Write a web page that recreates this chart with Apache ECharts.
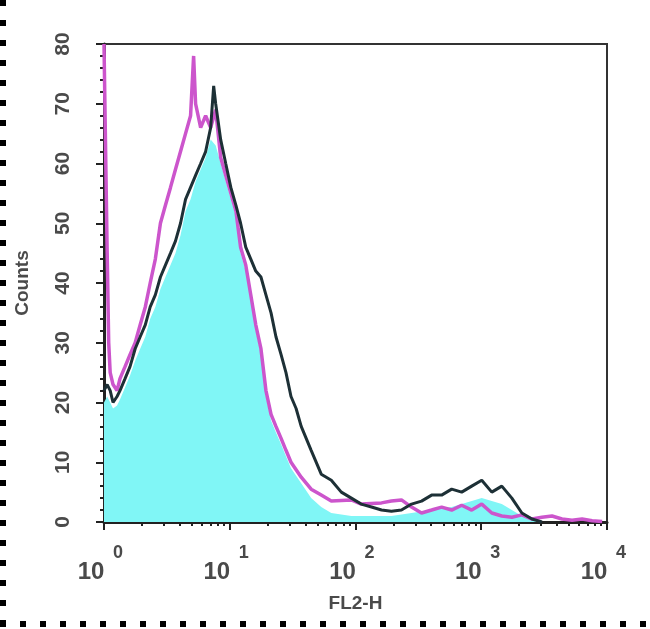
<!DOCTYPE html>
<html>
<head>
<meta charset="utf-8">
<script src="https://cdn.jsdelivr.net/npm/echarts@6/dist/echarts.min.js"></script>
<style>
html,body{margin:0;padding:0;background:#fff;}
#chart{width:650px;height:629px;}
</style>
</head>
<body>
<div id="chart"></div>
<script>
// ---- data (FL2-H value, counts) ----
const xTickLabels = ['0', '1', '2', '3', '4'];
const xMinorTicks = [2,3,4,5,6,7,8,9,20,30,40,50,60,70,80,90,200,300,400,500,600,700,800,900,2000,3000,4000,5000,6000,7000,8000,9000];
const yTicks = [0, 10, 20, 30, 40, 50, 60, 70, 80];

const cyanX = [1.0,1.06,1.12,1.18,1.27,1.34,1.47,1.61,1.77,1.94,2.13,2.33,2.56,2.81,3.08,3.38,3.70,4.06,4.45,4.88,5.35,5.87,6.43,7.05,7.73,8.47,9.29,10.2,11.2,12.2,13.4,14.7,16.1,17.7,19.4,21.3,23.3,25.6,28.0,30.7,37.0,44.4,53.4,64.2,92.7,134,193,279,403,582,840,1009,1213,1457,1751,2104,2529,3039];
const cyanY = [20,21,20,19,19.5,20.5,22.5,24.5,27,29,31,34,36,39,41,43,45,48,52,54,57,59,61,64,63,60,57,54,51,45,42,37,32,28,21,17,15,13,11,9,6.5,4,2.5,1.5,1,1,1,1.5,2,2.5,3.5,4,3.5,3,2,1,0.3,0];

const blackX = [1.0,1.06,1.12,1.18,1.27,1.34,1.47,1.61,1.77,1.94,2.13,2.33,2.56,2.81,3.08,3.38,3.70,4.06,4.45,4.88,5.35,5.87,6.43,7.05,7.45,7.73,8.47,9.29,10.2,11.2,12.2,13.4,14.7,16.1,17.7,19.4,21.3,23.3,25.6,28.0,30.7,33.7,37.0,44.4,53.4,64.2,77.1,92.7,111,134,161,193,232,279,335,403,484,582,699,840,1009,1213,1457,1751,2104,2529,3039];
const blackY = [22,23,22,20,21,22,24,26,29,31,33,36,38,41,43,45,47,50,54,56,58,60,62,66,73,70,64,60,56,53,50,46,44,42,41,38,35,31,28,25,21,19,16,12,8,7,5,4,3,2.5,2,1.8,2,3,3.5,4.5,4.5,5.5,5,6,7,5,6,4,1.5,0.5,0];

const magentaX = [1.0,1.03,1.06,1.09,1.12,1.18,1.27,1.34,1.47,1.61,1.77,1.94,2.13,2.33,2.56,2.81,3.08,3.38,3.70,4.06,4.45,4.88,5.16,5.35,5.87,6.43,7.05,7.73,8.47,9.29,10.2,11.2,12.2,13.4,14.7,16.1,17.7,19.4,21.3,23.3,25.6,28.0,30.7,37.0,44.4,53.4,64.2,92.7,111,161,193,232,279,335,403,484,582,699,840,1009,1213,1457,1751,2104,2529,3039,3652,4389,5274,6338,7616,9152];
const magentaY = [80,80,45,30,25,23,22,24,26,28,30,33,36,40,44,50,53,56,59,62,65,68,78,70,66,68,66,69,61,58,55,52,46,43,38,33,29,22,18,16,14,12,10,7.5,5.5,4.5,3.5,3.7,3,3.2,3.5,3.7,2.5,1.5,2,2.5,2,2.8,2,3,1.5,1,0.8,1.2,0.5,0.8,1,0.5,0.3,0.5,0.2,0.1];

function zip(xs, ys) { return xs.map((x, i) => [x, ys[i]]); }

const chart = echarts.init(document.getElementById('chart'), null, {renderer: 'canvas'});
const axisColor = '#222';
const labelColor = '#4a4a4a';
const font = 'Liberation Sans';

chart.setOption({
  backgroundColor: '#fff',
  animation: false,
  grid: {
    left: 104, right: 43, top: 44, bottom: 107,
    show: true, borderColor: '#333', borderWidth: 2, backgroundColor: 'transparent'
  },
  xAxis: [{
    type: 'log', logBase: 10, min: 1, max: 10000,
    name: 'FL2-H', nameLocation: 'middle', nameGap: 72,
    nameTextStyle: {fontFamily: font, fontSize: 19, fontWeight: 'bold', color: labelColor},
    axisLine: {show: true, lineStyle: {color: axisColor, width: 3}},
    axisTick: {show: true, inside: false, length: 8, lineStyle: {color: axisColor, width: 2}},
    splitLine: {show: false},
    axisLabel: {
      margin: 25,
      formatter: function (v) {
        const e = Math.round(Math.log10(v));
        return '{w|}{s|' + xTickLabels[e] + '}\n{b|10}{w2|}';
      },
      rich: {
        w: {width: 28, lineHeight: 12},
        s: {fontFamily: font, fontSize: 18, fontWeight: 'bold', color: labelColor, lineHeight: 12},
        b: {fontFamily: font, fontSize: 24, fontWeight: 'bold', color: labelColor, lineHeight: 26},
        w2: {width: 26, lineHeight: 26}
      }
    }
  }, {
    type: 'value', min: 0, max: 4, position: 'bottom',
    axisLine: {show: false},
    axisLabel: {show: false},
    splitLine: {show: false},
    axisTick: {show: true, inside: false, length: 4, customValues: xMinorTicks.map(v => Math.log10(v)), lineStyle: {color: axisColor, width: 2}}
  }],
  yAxis: {
    type: 'value', min: 0, max: 80, interval: 10,
    name: 'Counts', nameLocation: 'middle', nameGap: 72, nameRotate: 90,
    nameTextStyle: {fontFamily: font, fontSize: 19, fontWeight: 'bold', color: labelColor},
    axisLine: {show: true, lineStyle: {color: axisColor, width: 3}},
    axisTick: {show: true, inside: false, length: 8, lineStyle: {color: axisColor, width: 2}},
    minorTick: {show: true, splitNumber: 5, length: 4, lineStyle: {color: axisColor, width: 2}},
    splitLine: {show: false},
    axisLabel: {
      rotate: 90, margin: 30,
      fontFamily: font, fontSize: 21, fontWeight: 'bold', color: labelColor,
      formatter: function (v) { return yTicks.indexOf(v) >= 0 ? String(v) : ''; }
    }
  },
  series: [
    {
      name: 'filled', type: 'line', data: zip(cyanX, cyanY),
      showSymbol: false, symbol: 'none',
      lineStyle: {width: 0, color: '#80f6f6'},
      areaStyle: {color: '#80f6f6', opacity: 1},
      z: 1
    },
    {
      name: 'magenta', type: 'line', data: zip(magentaX, magentaY),
      showSymbol: false, symbol: 'none',
      lineStyle: {width: 3.5, color: '#cc55cc'},
      z: 2
    },
    {
      name: 'black', type: 'line', data: zip(blackX, blackY),
      showSymbol: false, symbol: 'none',
      lineStyle: {width: 3, color: '#1d3036'},
      z: 3
    }
  ],
  graphic: [
    {type: 'line', shape: {x1: 3, y1: 0, x2: 3, y2: 629}, style: {stroke: '#000', lineWidth: 6, lineDash: [6, 14]}, silent: true},
    {type: 'line', shape: {x1: 0, y1: 624, x2: 650, y2: 624}, style: {stroke: '#000', lineWidth: 6, lineDash: [6, 14]}, silent: true}
  ]
});
</script>
</body>
</html>
